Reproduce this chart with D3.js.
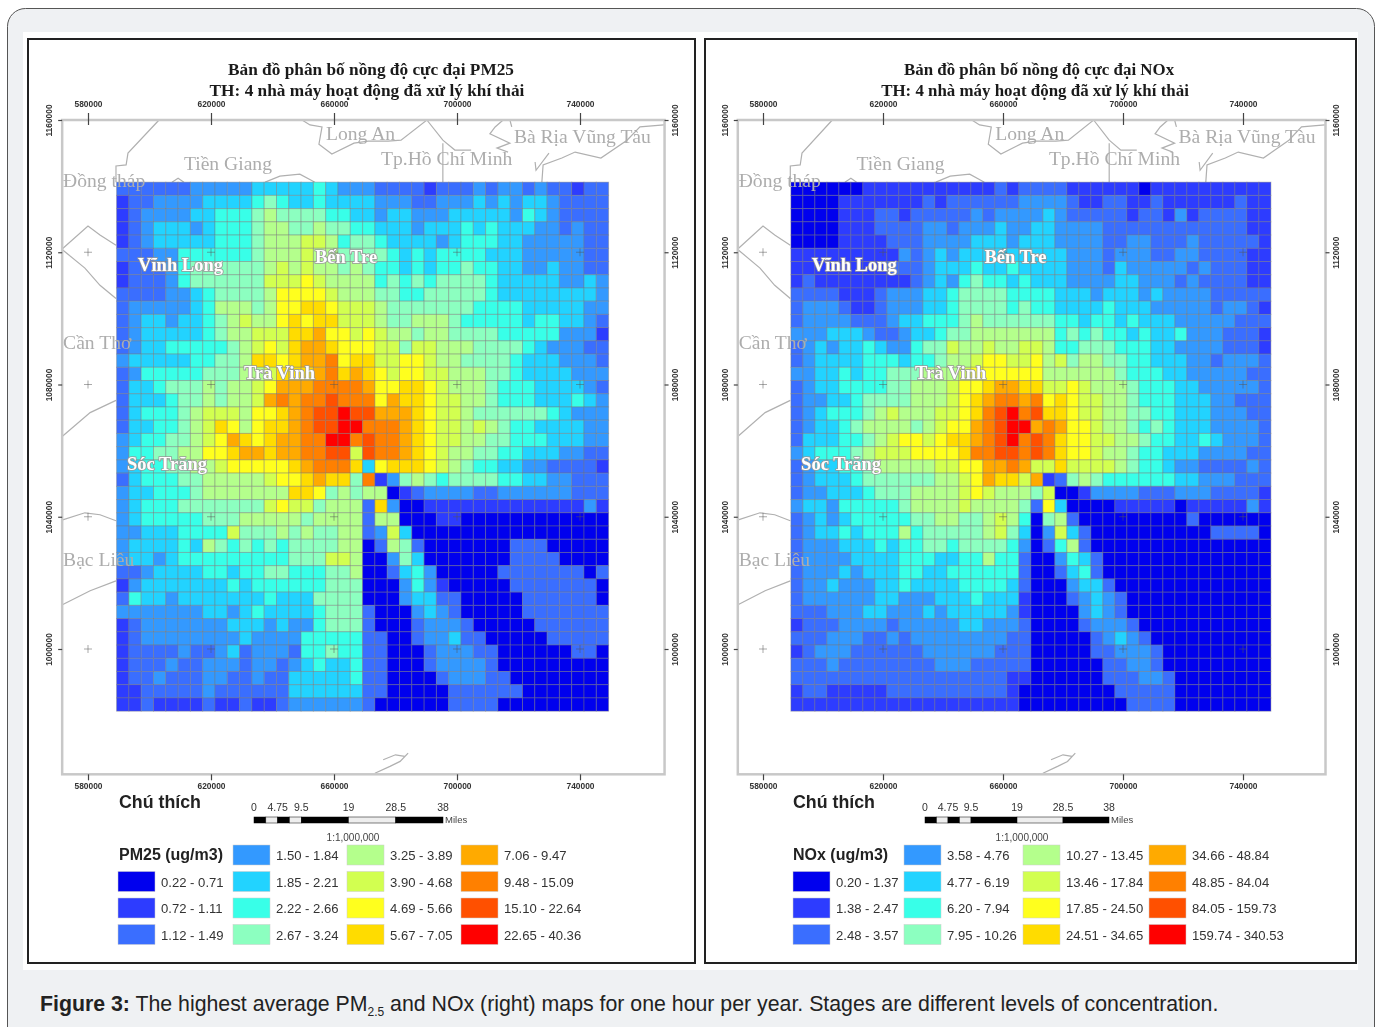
<!DOCTYPE html>
<html>
<head>
<meta charset="utf-8">
<script src="https://cdn.jsdelivr.net/npm/d3@7"></script>
<style>
  html, body { margin: 0; padding: 0; background: #fff; }
  svg { display: block; }
</style>
</head>
<body>
<div id="chart"></div>
<script>
// Class index (hex digit, 0-e) of every 4 km cell, read row by row from the top
var pm25Rows = [
  "2222223333344444543332222122232332322122",
  "1223333444456544544443332233343434432222",
  "1233334455567666655443443334444435432222",
  "1234443455567766766554443444545444332322",
  "1234444455567778875665444434555443333322",
  "2223355555567778776666545455554443333322",
  "1222356666667878776765545455655443343322",
  "1222356666668889877775656566665444443343",
  "2222334566667999987776655666665444444443",
  "233333457776799aa98887666666655554444433",
  "23443445678779a9aa8887667776555554554432",
  "23444445677888aab99898776776666555553331",
  "23445555567898abba9998868877766665433322",
  "34444455667aa9abbc9aa8899877666654443332",
  "2355555666778aaabcaba9899887776654444333",
  "2445666767789bbbccccb99aa987776555444432",
  "244456676778bcbccdccc9baa988776555444543",
  "2455567888799abcddeddbbba988766666654333",
  "24455678a979aabcddeecccba988787655444433",
  "345566789ba9abbcceecdccba988776655544433",
  "355667799abbabbccdd8dccba987766554443322",
  "34556677899999abccca49aaa987655443322221",
  "245556677777899abaa6c1367656666554433222",
  "34455567777777aa967677012333322333333222",
  "345556666666898867772a300111111111111131",
  "3455555666777776777727700011000000000000",
  "3344455558666767667723840000000000000000",
  "3444454765656566667702762000000022200000",
  "3443455555555566688700364000000022220000",
  "2234444554556655566700245300000222222202",
  "1344444445455555566600035310000022222220",
  "2544344444445444666600034422000002222220",
  "3333333443454444566620003432000002222222",
  "1233333334443433566620002333200000222222",
  "1233333333433335555522002334220000022222",
  "1222232234233325565522000233322000000220",
  "1222322333233234544522000233332000000000",
  "1223222332232244444522000023332200000000",
  "1122222322222244444422000002222220000000",
  "1121111211211233333320000002222000000000"
];

var noxRows = [
  "0000001111111111121222211111101111111111",
  "0000111111121222222333321122112111111211",
  "0000111221222223233334322222122131222211",
  "0000111222233233343344333322222222222211",
  "0000111122233334443444333322332223222221",
  "1111111113234344444444433323332233222211",
  "1111111122234445445444433324333332322211",
  "1211111111234356554544433334433323222211",
  "2222111233344566665555444344434333322222",
  "2333211233344566665655444454443333323321",
  "2333322234455567666666554554544433333222",
  "3334443223445667777777565655454453332221",
  "2343445433566877877887556665554433332221",
  "2344445554556778998897867766554443323332",
  "3344545566677789999997777776555443333322",
  "2344555566777899abbaa8898777655544333332",
  "233445666677789abccbc9a98877655544433222",
  "234555678777889acdecdaa98877665544433322",
  "234456777767899bcdeebcb99877656544433332",
  "2444556789989aabcdecdca99887765544543332",
  "34555678889999accddcdca99877655444333322",
  "2344556777778899bbcb88a88887655433222232",
  "2344456666667789baa8b1267655555544333222",
  "2334445666777789877768001333322233322221",
  "3443555556777787777629400001111101111131",
  "2343455555667766787506720000000002000000",
  "2344545557566666786403842000000000022220",
  "2333444545566566665302572000000000000000",
  "2333344445554455755200354200000000000000",
  "2333434445544555555200245200000000000000",
  "2334333445444455554200034420000000000000",
  "2333333443334445444100023432000000000000",
  "2223334433343444443100003432000000000000",
  "1222333323333344333200002333200000000000",
  "2223332232333333332200000234320000000000",
  "1233322222233333322200000223332000000000",
  "2223222222223332222200000022332000000000",
  "2222222222222222221100000022233200000000",
  "1221111122222222221000000002222200000000",
  "1111111111111111111000000000222200000000"
];

var classColors = ["#0000ee", "#2d3cff", "#3a6eff", "#3399ff", "#22d3ff", "#38ffe8", "#8cffc0", "#b4ff8c",
                   "#d2ff50", "#ffff1e", "#ffdc00", "#ffaa00", "#ff8000", "#ff5000", "#ff0000"];

var pm25Classes = ["0.22 - 0.71", "0.72 - 1.11", "1.12 - 1.49", "1.50 - 1.84", "1.85 - 2.21", "2.22 - 2.66", "2.67 - 3.24",
                   "3.25 - 3.89", "3.90 - 4.68", "4.69 - 5.66", "5.67 - 7.05", "7.06 - 9.47", "9.48 - 15.09", "15.10 - 22.64", "22.65 - 40.36"];

var noxClasses = ["0.20 - 1.37", "1.38 - 2.47", "2.48 - 3.57", "3.58 - 4.76", "4.77 - 6.19", "6.20 - 7.94", "7.95 - 10.26",
                  "10.27 - 13.45", "13.46 - 17.84", "17.85 - 24.50", "24.51 - 34.65", "34.66 - 48.84", "48.85 - 84.04", "84.05 - 159.73", "159.74 - 340.53"];

var eastTicks = [580000, 620000, 660000, 700000, 740000];
var northTicks = [1160000, 1120000, 1080000, 1040000, 1000000];

var scaleStops = [0, 2.375, 4.75, 7.125, 9.5, 19, 28.5, 38];
var scaleLabels = [0, 4.75, 9.5, 19, 28.5, 38];

// Place names with map coordinates (metres) of the text start
var placeNames = ["Long An", "Bà Rịa Vũng Tàu", "Tiền Giang", "Tp.Hồ Chí Minh", "Đồng tháp", "Vĩnh Long", "Bến Tre", "Cần Thơ", "Trà Vinh", "Sóc Trăng", "Bạc Liêu"];
var placeEast = [657400, 718500, 611200, 675300, 571900, 596300, 653800, 571900, 630700, 592700, 571900];
var placeNorth = [1153900, 1153000, 1144900, 1146400, 1139700, 1114200, 1116700, 1090600, 1081800, 1054200, 1025100];
var placeOnGrid = [0, 0, 0, 0, 0, 1, 1, 0, 1, 1, 0];

// Province boundaries outside the model grid, [east km, north km]
var provinceLines = [
  [[603.1,1160],[593,1150],[592.4,1146.4],[589.1,1146.1],[589.1,1141.2]],
  [[649.6,1160],[652.2,1158.5],[656.1,1157.9],[655.1,1152.7],[659.3,1149.7],[666.5,1153],[671.1,1153.6],[677.6,1153.6],[681.8,1153.9],[690.2,1160],[695.4,1153.9],[699.3,1150.9],[704.6,1150.9]],
  [[695.4,1153],[695.4,1141.2]],
  [[715,1160],[712.4,1157.9],[710.7,1155.8],[717.2,1153],[713,1151.5],[716.6,1150.3]],
  [[717.2,1160],[717.8,1157.9]],
  [[725.4,1147.3],[725.7,1144.8],[729.9,1150]],
  [[727.6,1141.2],[728,1146.4],[734.1,1148.5],[738.4,1150.3],[746.8,1148.5],[755.3,1153.9],[759.5,1157.9],[767.3,1158.5]],
  [[637.6,1141.2],[642.4,1143],[648.9,1143.6],[653.8,1141.2]],
  [[607.3,1141.2],[609.3,1142.4],[611.2,1141.2]],
  [[571.5,1120.9],[580,1127.9],[583.9,1125.2],[589.1,1122.1]],
  [[571.5,1120.9],[579,1115.2],[583.9,1110],[589.1,1106]],
  [[571.5,1064.2],[580.7,1071.5],[589.1,1075.2]],
  [[571.5,1039],[579,1041.2],[583.9,1040.6],[589.1,1038.8]],
  [[571.5,1013.3],[580.7,1017.6],[589.1,1020.6]],
  [[673.3,962.4],[678.2,964.5],[681.5,966],[684.1,968.5]],
  [[676,966.5],[680,968],[683,967.5]]
];

var sansFont = "'Liberation Sans', Arial, sans-serif";
var serifFont = "'Liberation Serif', 'Times New Roman', serif";

var svg = d3.select("#chart").append("svg")
    .attr("width", 1378)
    .attr("height", 1027);

// Page card
svg.append("rect")
    .attr("x", 7.5).attr("y", 8.5)
    .attr("width", 1367).attr("height", 1040)
    .attr("rx", 18)
    .attr("fill", "#eff1f3")
    .attr("stroke", "#555");

svg.append("rect")
    .attr("x", 23).attr("y", 32)
    .attr("width", 1335).attr("height", 938)
    .attr("fill", "#fff");

var color = d3.scaleOrdinal().domain(d3.range(classColors.length)).range(classColors);

drawMap({
  frame: [28, 39, 667, 924],
  xRange: [88, 580],
  rows: pm25Rows,
  classes: pm25Classes,
  title: ["Bản đồ phân bố nồng độ cực đại PM25", "TH: 4 nhà máy hoạt động đã xử lý khí thải"],
  titleX: [371, 367],
  titleSize: 17.3,
  legendTitle: "PM25 (ug/m3)",
  legendX: [118, 233, 347, 461],
  noteX: 119,
  barRange: [254, 443],
  ratioX: 353
});

drawMap({
  frame: [705, 39, 651, 924],
  xRange: [763, 1243],
  rows: noxRows,
  classes: noxClasses,
  title: ["Bản đồ phân bố nồng độ cực đại NOx", "TH: 4 nhà máy hoạt động đã xử lý khí thải"],
  titleX: [1039, 1035],
  titleSize: 16.9,
  legendTitle: "NOx (ug/m3)",
  legendX: [793, 904, 1023, 1149],
  noteX: 793,
  barRange: [925, 1109],
  ratioX: 1022
});

function drawMap(opt) {
  var g = svg.append("g").style("filter", "blur(0.7px)");

  var x = d3.scaleLinear().domain([580000, 740000]).range(opt.xRange);
  var y = d3.scaleLinear().domain([1160000, 1000000]).range([120, 649]);

  var neat = {x0: x(571600), x1: x(767500), y0: y(1160000), y1: y(962100)};

  // Outer frame
  g.append("rect")
      .attr("x", opt.frame[0]).attr("y", opt.frame[1])
      .attr("width", opt.frame[2]).attr("height", opt.frame[3])
      .attr("fill", "#fff")
      .attr("stroke", "#222")
      .attr("stroke-width", 2);

  // Title
  g.selectAll("text.title")
    .data(opt.title)
    .enter().append("text")
      .attr("class", "title")
      .attr("x", function(d, i) { return opt.titleX[i]; })
      .attr("y", function(d, i) { return 75 + i * 21; })
      .attr("text-anchor", "middle")
      .attr("font-family", serifFont)
      .attr("font-weight", "bold")
      .attr("font-size", opt.titleSize)
      .attr("fill", "#1a1a1a")
      .text(function(d) { return d; });

  // Province lines sit under the grid
  var line = d3.line()
      .x(function(d) { return x(d[0] * 1000); })
      .y(function(d) { return y(d[1] * 1000); });

  g.selectAll("path.province")
    .data(provinceLines)
    .enter().append("path")
      .attr("class", "province")
      .attr("d", line)
      .attr("fill", "none")
      .attr("stroke", "#b0b0b0")
      .attr("stroke-width", 1.2);

  // Grid cells, 40 x 40 at 4 km
  var colScale = d3.scaleBand().domain(d3.range(40)).range([x(589300), x(749300)]);
  var rowScale = d3.scaleBand().domain(d3.range(40)).range([y(1141200), y(981200)]);

  var cells = [];
  opt.rows.forEach(function(row, r) {
    row.split("").forEach(function(ch, c) {
      cells.push({row: r, col: c, cls: parseInt(ch, 16)});
    });
  });

  g.selectAll("rect.cell")
    .data(cells)
    .enter().append("rect")
      .attr("class", "cell")
      .attr("x", function(d) { return colScale(d.col); })
      .attr("y", function(d) { return rowScale(d.row); })
      .attr("width", colScale.bandwidth())
      .attr("height", rowScale.bandwidth())
      .attr("fill", function(d) { return color(d.cls); })
      .attr("stroke", "#777")
      .attr("stroke-opacity", 0.42)
      .attr("stroke-width", 1);

  // Neatline and graticule
  g.append("rect")
      .attr("x", neat.x0).attr("y", neat.y0)
      .attr("width", neat.x1 - neat.x0).attr("height", neat.y1 - neat.y0)
      .attr("fill", "none")
      .attr("stroke", "#c8c8c8")
      .attr("stroke-width", 2.5);

  var crosses = [];
  eastTicks.forEach(function(e) {
    northTicks.slice(1).forEach(function(n) { crosses.push([e, n]); });
  });

  g.selectAll("path.cross")
    .data(crosses)
    .enter().append("path")
      .attr("class", "cross")
      .attr("d", function(d) {
        var cx = x(d[0]), cy = y(d[1]);
        return "M" + (cx - 4) + "," + cy + "H" + (cx + 4) + "M" + cx + "," + (cy - 4) + "V" + (cy + 4);
      })
      .attr("stroke", "#555")
      .attr("stroke-opacity", 0.5);

  function styleAxis(sel) {
    sel.select(".domain").remove();
    sel.selectAll("line").attr("stroke", "#444").attr("stroke-width", 1.2);
    sel.selectAll("text")
      .attr("font-family", sansFont)
      .attr("font-weight", "bold")
      .attr("font-size", 8.4)
      .attr("fill", "#333");
  }

  var fmt = d3.format("d");

  var topAxis = g.append("g")
      .attr("transform", "translate(0," + neat.y0 + ")")
      .call(d3.axisTop(x).tickValues(eastTicks).tickSize(7).tickPadding(6).tickFormat(fmt))
      .call(styleAxis);
  topAxis.selectAll("line").attr("y1", 5);

  g.append("g")
      .attr("transform", "translate(0," + neat.y1 + ")")
      .call(d3.axisBottom(x).tickValues(eastTicks).tickSize(6).tickPadding(3).tickFormat(fmt))
      .call(styleAxis);

  g.append("g")
      .attr("transform", "translate(" + neat.x0 + ",0)")
      .call(d3.axisLeft(y).tickValues(northTicks).tickSize(4).tickFormat(fmt))
      .call(styleAxis)
      .selectAll("text")
      .attr("x", 0).attr("y", -10).attr("dy", 0)
      .attr("text-anchor", "middle")
      .attr("transform", "rotate(-90)");

  g.append("g")
      .attr("transform", "translate(" + neat.x1 + ",0)")
      .call(d3.axisRight(y).tickValues(northTicks).tickSize(4).tickFormat(fmt))
      .call(styleAxis)
      .selectAll("text")
      .attr("x", 0).attr("y", 13).attr("dy", 0)
      .attr("text-anchor", "middle")
      .attr("transform", "rotate(-90)");

  // Place names
  g.selectAll("text.place")
    .data(placeNames)
    .enter().append("text")
      .attr("class", "place")
      .attr("x", function(d, i) { return x(placeEast[i]); })
      .attr("y", function(d, i) { return y(placeNorth[i]); })
      .attr("font-family", serifFont)
      .attr("font-size", function(d, i) { return placeOnGrid[i] ? 18.5 : 19.6; })
      .attr("font-weight", function(d, i) { return placeOnGrid[i] ? "bold" : "normal"; })
      .attr("fill", function(d, i) { return placeOnGrid[i] ? "#fff" : "#adadad"; })
      .attr("stroke", function(d, i) { return placeOnGrid[i] ? "#999" : "none"; })
      .attr("stroke-width", 1.6)
      .attr("paint-order", "stroke")
      .text(function(d) { return d; });

  drawLegend(g, opt);
}

function drawLegend(g, opt) {
  g.append("text")
      .attr("x", opt.noteX).attr("y", 808)
      .attr("font-family", sansFont)
      .attr("font-weight", "bold")
      .attr("font-size", 17.8)
      .attr("fill", "#222")
      .text("Chú thích");

  // Scale bar
  var bar = d3.scaleLinear().domain([0, 38]).range(opt.barRange);

  g.selectAll("rect.seg")
    .data(d3.pairs(scaleStops))
    .enter().append("rect")
      .attr("class", "seg")
      .attr("x", function(d) { return bar(d[0]); })
      .attr("y", 817)
      .attr("width", function(d) { return bar(d[1]) - bar(d[0]); })
      .attr("height", 6)
      .attr("fill", function(d, i) { return i % 2 ? "#eee" : "#000"; })
      .attr("stroke", "#000")
      .attr("stroke-width", 0.5);

  g.selectAll("text.bar")
    .data(scaleLabels)
    .enter().append("text")
      .attr("class", "bar")
      .attr("x", function(d) { return bar(d); })
      .attr("y", 811)
      .attr("text-anchor", "middle")
      .attr("font-family", sansFont)
      .attr("font-size", 10.5)
      .attr("fill", "#333")
      .text(function(d) { return d; });

  g.append("text")
      .attr("x", opt.barRange[1] + 2).attr("y", 823)
      .attr("font-family", sansFont)
      .attr("font-size", 9.5)
      .attr("fill", "#444")
      .text("Miles");

  g.append("text")
      .attr("x", opt.ratioX).attr("y", 841)
      .attr("text-anchor", "middle")
      .attr("font-family", sansFont)
      .attr("font-size", 10)
      .attr("fill", "#444")
      .text("1:1,000,000");

  g.append("text")
      .attr("x", opt.noteX).attr("y", 860)
      .attr("font-family", sansFont)
      .attr("font-weight", "bold")
      .attr("font-size", 16)
      .attr("fill", "#222")
      .text(opt.legendTitle);

  // 15 classes run down four columns, the first one starts a row lower
  var slots = opt.classes.map(function(d, i) {
    var pos = i + 1;
    return {label: d, cls: i, col: Math.floor(pos / 4), row: pos % 4};
  });

  var rowY = d3.scalePoint().domain([0, 1, 2, 3]).range([845, 924.5]);

  var item = g.selectAll("g.item")
    .data(slots)
    .enter().append("g")
      .attr("class", "item")
      .attr("transform", function(d) {
        return "translate(" + opt.legendX[d.col] + "," + rowY(d.row) + ")";
      });

  item.append("rect")
      .attr("width", 37)
      .attr("height", 20)
      .attr("fill", function(d) { return color(d.cls); })
      .attr("stroke", "#ccc")
      .attr("stroke-width", 0.5);

  item.append("text")
      .attr("x", 43)
      .attr("y", 15)
      .attr("font-family", sansFont)
      .attr("font-size", 13.1)
      .attr("fill", "#333")
      .text(function(d) { return d.label; });
}

// Caption
var caption = svg.append("text")
    .attr("x", 40)
    .attr("y", 1011)
    .attr("font-family", sansFont)
    .attr("font-size", 21.3)
    .attr("fill", "#222");

caption.append("tspan").attr("font-weight", "bold").text("Figure 3:");
caption.append("tspan").text(" The highest average PM");
caption.append("tspan").attr("font-size", 12).attr("dy", 5).text("2.5");
caption.append("tspan").attr("dy", -5).text(" and NOx (right) maps for one hour per year. Stages are different levels of concentration.");
</script>
</body>
</html>
